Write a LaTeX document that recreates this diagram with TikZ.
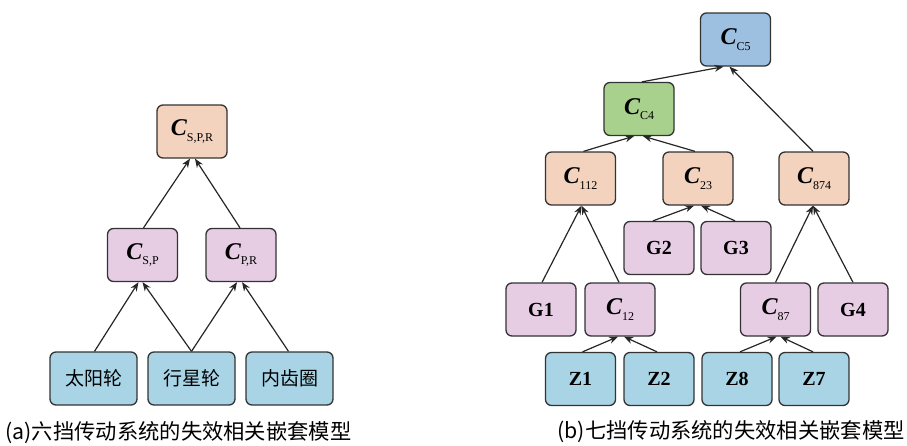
\documentclass[tikz,border=0pt]{standalone}
\usepackage{fontspec}
\setmainfont{Liberation Serif}
\newfontfamily\cjk{Noto Sans CJK SC}
\usetikzlibrary{arrows.meta}
\definecolor{peach}{HTML}{F3D2BE}
\definecolor{lilac}{HTML}{E6CDE4}
\definecolor{lblue}{HTML}{A8D4E6}
\definecolor{mblue}{HTML}{9DBFE0}
\definecolor{lgreen}{HTML}{A9D18E}
\definecolor{edgec}{HTML}{333333}
\newcommand{\Cv}[1]{{\fontsize{24}{24}\selectfont\bfseries\itshape C}\raisebox{-0.6ex}{\fontsize{12}{12}\selectfont\mdseries #1}}
\tikzset{
  box/.style={draw=edgec, line width=1.3pt, rounded corners=6pt, minimum width=70pt, minimum height=53pt, inner sep=0pt, font=\fontsize{20}{20}\selectfont\bfseries},
  cbox/.style={box, font=\fontsize{19}{19}\cjk, minimum width=87pt},
  arr/.style={-{Stealth[length=9pt,width=7pt]}, line width=1.2pt, draw=black!85},
  captext/.style={font=\fontsize{21.3}{21.3}\cjk, anchor=west}
}
\begin{document}
\begin{tikzpicture}[x=1pt,y=-1pt]
\useasboundingbox (0,0) rectangle (907,445);
% ---- (a)
\node[box, fill=peach] (spr) at (192,131.5) {\Cv{S,P,R}};
\node[box, fill=lilac] (sp) at (142.5,255) {\Cv{S,P}};
\node[box, fill=lilac] (pr) at (241,255) {\Cv{P,R}};
\node[cbox, fill=lblue] (sun) at (93.5,378.5) {太阳轮};
\node[cbox, fill=lblue] (pla) at (191.5,378.5) {行星轮};
\node[cbox, fill=lblue] (ring) at (289.5,378.5) {内齿圈};
\draw[arr] ([xshift=1pt]sun.north) -- ([xshift=-4pt]sp.south);
\draw[arr] (pla.north) -- ([xshift=0pt]sp.south);
\draw[arr] (pla.north) -- ([xshift=-4pt]pr.south);
\draw[arr] ([xshift=-1pt]ring.north) -- ([xshift=1pt]pr.south);
\draw[arr] ([xshift=1pt]sp.north) -- ([xshift=-2pt]spr.south);
\draw[arr] ([xshift=-1pt]pr.north) -- ([xshift=3pt]spr.south);
\node[captext] (capa) at (2,433) {(a)六挡传动系统的失效相关嵌套模型};
% ---- (b)
\node[box, fill=mblue] (c5) at (735.5,39.5) {\Cv{C5}};
\node[box, fill=lgreen] (c4) at (639,109) {\Cv{C4}};
\node[box, fill=peach] (c112) at (580.5,178.5) {\Cv{112}};
\node[box, fill=peach] (c23) at (698,178.5) {\Cv{23}};
\node[box, fill=peach] (c874) at (814,178.5) {\Cv{874}};
\node[box, fill=lilac] (g2) at (659,248) {G2};
\node[box, fill=lilac] (g3) at (736,248) {G3};
\node[box, fill=lilac] (g1) at (541,309.5) {G1};
\node[box, fill=lilac] (c12) at (620,309.5) {\Cv{12}};
\node[box, fill=lilac] (c87) at (775.5,309.5) {\Cv{87}};
\node[box, fill=lilac] (g4) at (853,309.5) {G4};
\node[box, fill=lblue] (z1) at (580.5,379) {Z1};
\node[box, fill=lblue] (z2) at (659,379) {Z2};
\node[box, fill=lblue] (z8) at (737,379) {Z8};
\node[box, fill=lblue] (z7) at (814,379) {Z7};
\draw[arr] ([xshift=3pt]c4.north) -- ([xshift=-12pt]c5.south);
\draw[arr] ([xshift=-1pt]c874.north) -- ([xshift=-6pt]c5.south);
\draw[arr] ([xshift=3pt]c112.north) -- ([xshift=-5pt]c4.south);
\draw[arr] ([xshift=-3pt]c23.north) -- ([xshift=4pt]c4.south);
\draw[arr] ([xshift=-6pt]g2.north) -- ([xshift=-4pt]c23.south);
\draw[arr] ([xshift=-1pt]g3.north) -- ([xshift=3pt]c23.south);
\draw[arr] ([xshift=1pt]g1.north) -- ([xshift=1pt]c112.south);
\draw[arr] ([xshift=-1pt]c12.north) -- ([xshift=1pt]c112.south);
\draw[arr] ([xshift=0pt]c87.north) -- ([xshift=-1pt]c874.south);
\draw[arr] ([xshift=0pt]g4.north) -- ([xshift=-1pt]c874.south);
\draw[arr] ([xshift=2pt]z1.north) -- ([xshift=-2pt]c12.south);
\draw[arr] ([xshift=-2pt]z2.north) -- ([xshift=4pt]c12.south);
\draw[arr] ([xshift=3pt]z8.north) -- ([xshift=1pt]c87.south);
\draw[arr] ([xshift=-1pt]z7.north) -- ([xshift=5pt]c87.south);
\node[captext] (capb) at (554,432) {(b)七挡传动系统的失效相关嵌套模型};
\end{tikzpicture}
\end{document}
